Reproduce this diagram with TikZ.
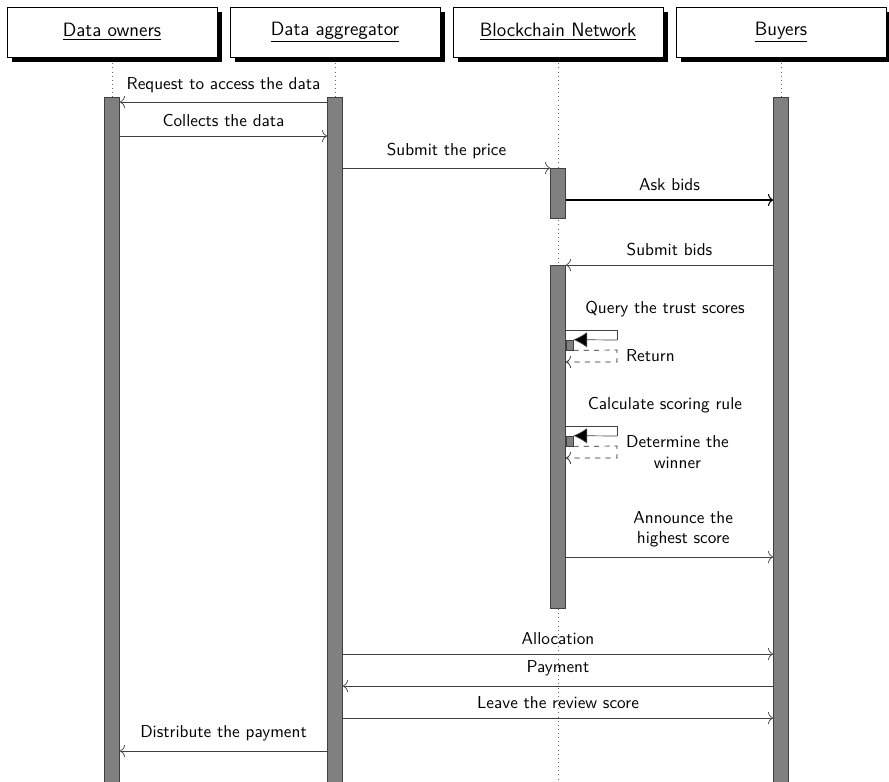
\documentclass[tikz,border=0pt]{standalone}
\usetikzlibrary{shadows,fit,arrows.meta}
\begin{document}
\begin{tikzpicture}[x=0.0204cm,y=-0.0204cm,font=\sffamily,
	header/.style={draw,fill=white,minimum width=4.284cm,minimum height=1.02cm,font=\sffamily\fontsize{11.2}{13}\selectfont,
		drop shadow={shadow xshift=0.1cm,shadow yshift=-0.1cm,fill=black,opacity=1}},
	act/.style={draw=black!75,fill=black!50,minimum width=0.306cm},
	msg/.style={draw=black!75,-{To[length=3pt,width=7pt]}},
	ret/.style={draw=black!85,dashed,-{To[length=3pt,width=7pt]}}]
	\useasboundingbox (0,0) rectangle (889,781);
	\node[header] (do) at (112,32) {\underline{Data owners}};
	\node[header] (da) at (335,32) {\underline{Data aggregator}};
	\node[header] (bn) at (558,32) {\underline{Blockchain Network}};
	\node[header] (by) at (781,32) {\underline{Buyers}};
	%
	\foreach \h in {do,da,bn,by}
	{	\draw[dotted,black!60] ([yshift=-0.12cm]\h.south) -- (\h.south |- 0,790);
	}
	\foreach \n/\x/\top/\bot in {a1/112/97/790, a2/335/97/790, b1/558/168/218, b2/558/265/608, a4/781/97/790}
	{	\node[inner sep=0pt,fit={(\x,\top)(\x,\bot)},act] (\n) {};
	}
	%
	\def\list {102/a2.west/a1.east/Request to access the data, 136/a1.east/a2.west/Collects the data, 168/a2.east/b1.west/Submit the price, 265/a4.west/b2.east/Submit bids, 654/a2.east/a4.west/Allocation, 686/a4.west/a2.east/Payment, 718/a2.east/a4.west/Leave the review score, 751/a2.west/a1.east/Distribute the payment}  % messages
	\foreach \y/\s/\t/\txt in \list
	{	\draw[msg] (\s |- 0,\y) -- (\t |- 0,\y) node [midway, above=2pt] {\txt};
	}
	\draw[msg,black,semithick] (b1.east |- 0,200) -- (a4.west |- 0,200) node [midway, above=2pt] {Ask bids};
	\draw[msg] (b2.east |- 0,557) -- (a4.west |- 0,557) node [midway, above=2pt, xshift=0.28cm, align=center] {Announce the\\highest score};
	%
	\foreach \y/\n/\call/\back in {330/q1/Query the trust scores/Return, 426/q2/Calculate scoring rule/{Determine the\\winner}}
	{	\node[inner sep=0pt,fit={(569.5,\y+10)(569.5,\y+20)},act,minimum width=0.143cm] (\n) {};
		\draw[black!75] (b2.east |- 0,\y) -- (617,\y) -- (617,\y+10);
		\draw[black!75,-{Latex[length=8pt,width=9pt,fill=black]}] (617,\y+10) -- (\n.north east);
		\draw[ret] (\n.south east) -- (617,\y+20) -- (617,\y+32) -- (b2.east |- 0,\y+32);
		\node[above=4pt] (c\n) at (665,\y) {\call};
		\node[anchor=west,align=center] (r\n) at (620,\y+26) {\back};
	}
\end{tikzpicture}
\end{document}
